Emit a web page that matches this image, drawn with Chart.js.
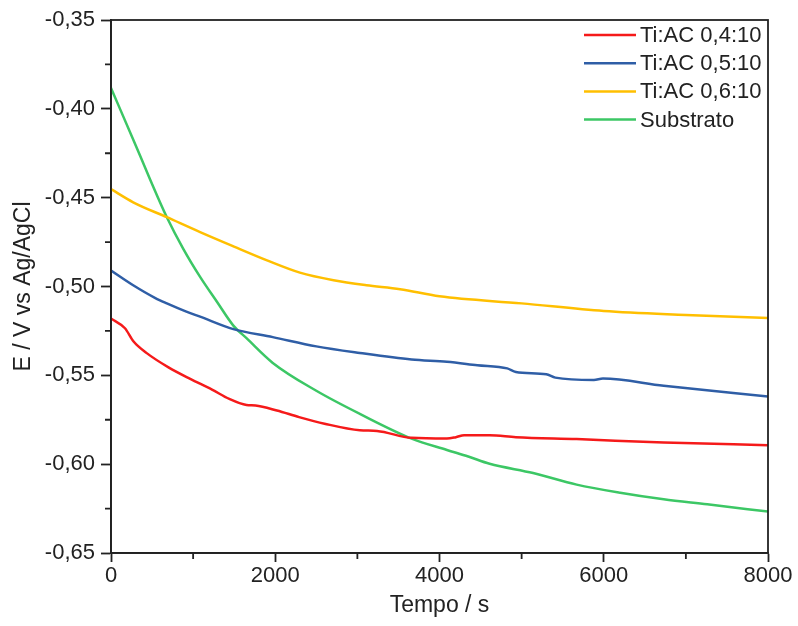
<!DOCTYPE html>
<html><head><meta charset="utf-8">
<script src="https://cdn.jsdelivr.net/npm/chart.js@4/dist/chart.umd.min.js"></script>
<style>html,body{margin:0;padding:0;background:#fff}#wrap{width:798px;height:626px}</style>
</head><body><div id="wrap"><canvas id="c" width="798" height="626"></canvas></div>
<script>
const seriesNames = ["Ti:AC 0,4:10","Ti:AC 0,5:10","Ti:AC 0,6:10","Substrato"];
const seriesColors = ["#f51a1a","#2f5ea6","#ffbf00","#3cc765"];

const timeRed = [0,170,275,435,700,965,1230,1440,1650,1760,2020,2290,2600,3030,3240,3660,4090,4200,4300,4610,4930,5670,6730,8000];
const valRed  = [-0.518,-0.5235,-0.531,-0.5375,-0.5455,-0.552,-0.558,-0.5633,-0.5667,-0.567,-0.5698,-0.5735,-0.5772,-0.5809,-0.5813,-0.5852,-0.5856,-0.5848,-0.5837,-0.5837,-0.5848,-0.5859,-0.5878,-0.5893];

const timeBlue = [0,270,540,680,910,1085,1490,1970,2500,3030,3660,4090,4460,4825,4930,5300,5410,5880,5990,6730,8000];
const valBlue  = [-0.491,-0.4993,-0.5065,-0.5095,-0.514,-0.517,-0.524,-0.5285,-0.5337,-0.5374,-0.5411,-0.5424,-0.5443,-0.5461,-0.5481,-0.5494,-0.5513,-0.5526,-0.5518,-0.5559,-0.5619];

const timeYellow = [0,270,680,1085,1490,1900,2300,2710,3110,3520,4000,5000,6000,7000,8000];
const valYellow  = [-0.4452,-0.4526,-0.461,-0.4694,-0.4774,-0.4853,-0.4922,-0.4965,-0.4993,-0.5015,-0.5055,-0.5095,-0.5138,-0.516,-0.5177];

const timeGreen = [0,270,475,680,880,1085,1290,1490,1650,1970,2500,3030,3660,4090,4350,4610,5140,5670,6200,6730,7260,8000];
const valGreen  = [-0.3883,-0.4172,-0.4396,-0.461,-0.4788,-0.4946,-0.5086,-0.522,-0.5291,-0.543,-0.5587,-0.5717,-0.5856,-0.592,-0.5957,-0.5998,-0.605,-0.6115,-0.6161,-0.6198,-0.6226,-0.6267];

const yMajorTicks = [-0.65,-0.60,-0.55,-0.50,-0.45,-0.40,-0.35];
const yMinorTicks = [-0.625,-0.575,-0.525,-0.475,-0.425,-0.375];
const xMajorTicks = [0,2000,4000,6000,8000];
const xMinorTicks = [1000,3000,5000,7000];

const seriesTimes = [timeRed,timeBlue,timeYellow,timeGreen];
const seriesVals = [valRed,valBlue,valYellow,valGreen];

const FONT = "'Liberation Sans', Arial, sans-serif";
const AX = "#222";

const datasets = seriesNames.map((n,i)=>({
  label:n,
  data: seriesTimes[i].map((t,j)=>({x:t,y:seriesVals[i][j]})),
  borderColor: seriesColors[i],
  backgroundColor: seriesColors[i],
  borderWidth: 2.5,
  pointRadius: 0,
  cubicInterpolationMode: 'monotone',
  fill:false
}));

const fmt = v => v.toFixed(2).replace('.', ',');

const decor = {
  id:'decor',
  afterDraw(chart){
    const ctx = chart.ctx, a = chart.chartArea;
    const xs = chart.scales.x, ys = chart.scales.y;
    ctx.save();
    ctx.strokeStyle = AX; ctx.lineWidth = 1.8;
    ctx.strokeRect(a.left, a.top, a.right-a.left, a.bottom-a.top);
    ctx.beginPath();
    yMinorTicks.forEach(v=>{const p=ys.getPixelForValue(v); ctx.moveTo(a.left-6,p); ctx.lineTo(a.left,p);});
    xMinorTicks.forEach(v=>{const p=xs.getPixelForValue(v); ctx.moveTo(p,a.bottom); ctx.lineTo(p,a.bottom+6);});
    ctx.stroke();
    // legend
    ctx.font = "22px " + FONT;
    ctx.textBaseline = 'middle';
    ctx.textAlign = 'left';
    const lx = a.right - 184, ty = a.top + 15, step = 28.2;
    seriesNames.forEach((n,i)=>{
      const y = ty + i*step;
      ctx.strokeStyle = seriesColors[i]; ctx.lineWidth = 2.5;
      ctx.beginPath(); ctx.moveTo(lx,y); ctx.lineTo(lx+52,y); ctx.stroke();
      ctx.fillStyle = "#222";
      ctx.fillText(n, lx+56, y+1);
    });
    ctx.restore();
  }
};

new Chart(document.getElementById('c'),{
  type:'line',
  data:{datasets},
  plugins:[decor],
  options:{
    responsive:false,
    animation:false,
    layout:{padding:{left:6,right:30,top:20,bottom:7}},
    plugins:{legend:{display:false},tooltip:{enabled:false}},
    scales:{
      x:{
        type:'linear', min:0, max:8000,
        afterBuildTicks: s => { s.ticks = xMajorTicks.map(v=>({value:v})); },
        ticks:{color:"#222", font:{family:FONT,size:22}, padding:1, maxRotation:0, callback:v=>String(v)},
        grid:{display:true, drawOnChartArea:false, tickLength:9, tickColor:AX, tickWidth:1.8},
        border:{display:true, color:AX, width:1.8},
        title:{display:true, text:"Tempo / s", color:"#222", font:{family:FONT,size:23}, padding:{top:0,bottom:0}},
        afterFit: s => { s.height = 66; }
      },
      y:{
        type:'linear', min:-0.65, max:-0.35,
        afterBuildTicks: s => { s.ticks = yMajorTicks.map(v=>({value:v})); },
        ticks:{color:"#222", font:{family:FONT,size:22}, padding:6, callback:v=>fmt(v)},
        grid:{display:true, drawOnChartArea:false, tickLength:10, tickColor:AX, tickWidth:1.8},
        border:{display:true, color:AX, width:1.8},
        title:{display:true, text:"E / V vs Ag/AgCl", color:"#222", font:{family:FONT,size:23}, padding:{top:4,bottom:0}},
        afterFit: s => { s.width = 105; }
      }
    }
  }
});
</script></body></html>
